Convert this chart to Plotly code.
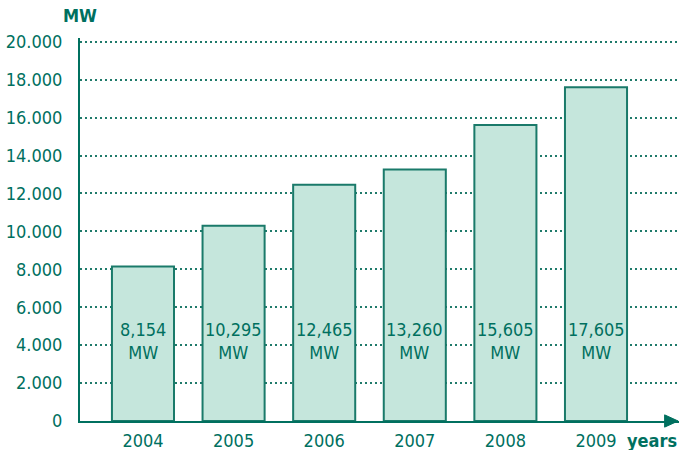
import plotly.graph_objects as go

years = ["2004", "2005", "2006", "2007", "2008", "2009"]
capacity_mw = [8154, 10295, 12465, 13260, 15605, 17605]
bar_labels = ["8,154<br>MW", "10,295<br>MW", "12,465<br>MW", "13,260<br>MW", "15,605<br>MW", "17,605<br>MW"]
y_tick_vals = [0, 2000, 4000, 6000, 8000, 10000, 12000, 14000, 16000, 18000, 20000]
y_tick_text = ["0", "2.000", "4.000", "6.000", "8.000", "10.000", "12.000", "14.000", "16.000", "18.000", "20.000"]

TEAL = "#00705f"
GRID = "#1f7a6a"
FILL = "#c5e6dc"
FONT = "DejaVu Sans Condensed, Liberation Sans Narrow, Roboto, sans-serif"

fig = go.Figure()
fig.add_trace(go.Bar(
    x=list(range(len(years))), y=capacity_mw, width=0.685,
    marker=dict(color=FILL, line=dict(color="#1a7a6a", width=2)),
    hoverinfo="skip",
))

for i, lab in enumerate(bar_labels):
    fig.add_annotation(x=i, y=4200, xref="x", yref="y", text=lab, showarrow=False,
                       font=dict(family=FONT, size=18, color=TEAL))

fig.add_annotation(x=0, xref="paper", y=1.0, yref="paper", yshift=10, text="<b>MW</b>",
                   showarrow=False, yanchor="bottom", xanchor="center",
                   font=dict(family=FONT, size=18, color=TEAL))
fig.add_annotation(x=1.0, xref="paper", y=0, yref="paper", xanchor="right", yanchor="middle",
                   yshift=-19, text="<b>years</b>", showarrow=False,
                   font=dict(family=FONT, size=18, color=TEAL))

# arrowhead at end of x axis
fig.add_shape(type="path", xref="paper", yref="paper",
              path="M 0.976 0.016 L 0.9985 0 L 0.976 -0.016 Z",
              fillcolor=TEAL, line=dict(color=TEAL, width=1), layer="above")

fig.update_layout(
    width=681, height=450,
    margin=dict(l=80, r=2, t=38, b=29, autoexpand=False),
    plot_bgcolor="white", paper_bgcolor="white",
    showlegend=False, bargap=0.3,
    font=dict(family=FONT, size=18, color=TEAL),
    xaxis=dict(range=[-0.695, 5.916], tickmode="array", tickvals=list(range(len(years))),
               ticktext=years, showgrid=False, zeroline=False, showline=True,
               linecolor=TEAL, linewidth=2, ticks="", ticklabelstandoff=2, automargin=False,
               tickfont=dict(family=FONT, size=18, color=TEAL)),
    yaxis=dict(range=[0, 20200], tickmode="array", tickvals=y_tick_vals, ticktext=y_tick_text,
               showgrid=True, gridcolor=GRID, griddash="2px,3px", gridwidth=1.5,
               zeroline=False, showline=True, linecolor=TEAL, linewidth=2, ticks="",
               ticklabelstandoff=12, automargin=False,
               tickfont=dict(family=FONT, size=18, color=TEAL)),
)

fig.write_html("out.html", config={"displayModeBar": False},
               post_script="document.body.style.margin='0';document.body.style.padding='0';")
